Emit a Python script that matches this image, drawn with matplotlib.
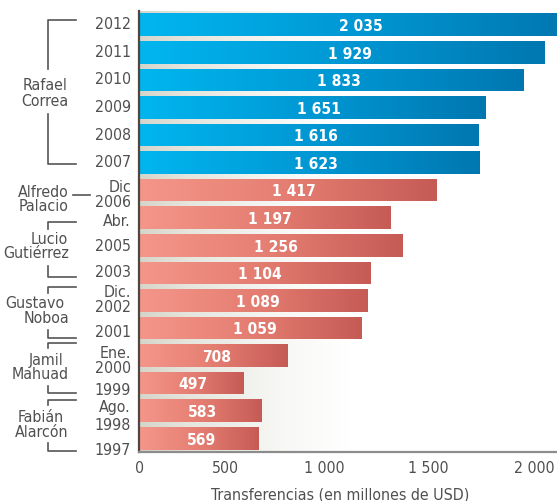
import numpy as np
import matplotlib
matplotlib.use("Agg")
import matplotlib.pyplot as plt
from matplotlib import transforms
from matplotlib.colors import LinearSegmentedColormap
from matplotlib.lines import Line2D

plt.rcParams['font.family'] = ['DejaVu Sans']
plt.rcParams['font.stretch'] = 'condensed'

# ---------------- data ----------------
year_labels = ["2012", "2011", "2010", "2009", "2008", "2007", "Dic\n2006", "Abr.",
               "2005", "2003", "Dic.\n2002", "2001", "Ene.\n2000", "1999",
               "Ago.\n1998", "1997"]
values = [2035, 1929, 1833, 1651, 1616, 1623, 1417, 1197, 1256, 1104, 1089,
          1059, 708, 497, 583, 569]
group = ["correa"] * 6 + ["other"] * 10
x_ticks = [0, 500, 1000, 1500, 2000]
x_tick_labels = ["0", "500", "1 000", "1 500", "2 000"]
x_label = "Transferencias (en millones de USD)"
president_lines = [["Rafael", "Correa"], ["Alfredo", "Palacio"], ["Lucio", "Gutiérrez"],
                   ["Gustavo", "Noboa"], ["Jamil", "Mahuad"], ["Fabián", "Alarcón"]]

# ---------------- layout/style ----------------
W, H = 557, 502
fig = plt.figure(figsize=(W / 100, H / 100), dpi=100)
ax_left, ax_right, ax_top, ax_bottom = 139, 559, 12, 453
ax = fig.add_axes([ax_left / W, (H - ax_bottom) / H,
                   (ax_right - ax_left) / W, (ax_bottom - ax_top) / H])

TXT = "#505052"
FS = 11.4
blue_cmap = LinearSegmentedColormap.from_list("b", ["#00b6ef", "#0098d4", "#0077b0"])
red_cmap = LinearSegmentedColormap.from_list("r", ["#f5968a", "#e57e72", "#c65b56"])
bg_cmap = LinearSegmentedColormap.from_list(
    "bg", [(0, "#d5d5ca"), (0.12, "#e6e6df"), (0.35, "#f8f8f6"), (0.5, "#ffffff"), (1, "#ffffff")])

n = len(values)
ypos = np.arange(n)

# background gradient
ax.imshow(np.linspace(0, 1, 256)[None, :], cmap=bg_cmap, extent=(0, 1, 0, 1),
          transform=ax.transAxes, aspect="auto", zorder=0)

bars = ax.barh(ypos, values, height=0.82, color="none", edgecolor="none", zorder=1)
grad = np.linspace(0, 1, 256)[None, :]
for bar, g in zip(bars, group):
    x0 = bar.get_x()
    x1 = x0 + bar.get_width()
    y0 = bar.get_y()
    y1 = y0 + bar.get_height()
    im = ax.imshow(grad, cmap=blue_cmap if g == "correa" else red_cmap,
                   extent=(x0, x1, y1, y0), aspect="auto", zorder=2,
                   interpolation="bilinear")
    im.set_clip_path(bar)

for y, v in zip(ypos, values):
    ax.text(0.52 * v, y + 0.03, f"{v:,}".replace(",", " "), ha="center", va="center",
            color="white", fontsize=11.2, fontweight="bold", zorder=3)

ax.set_xlim(0, 2000)
ax.set_ylim(n - 0.5, -0.5)

# y labels (with small per-label vertical nudges, px, positive = down)
y_nudge = [-1, -1, -1, -1, -1, -1, 4, 3, 0, -1, -1, 4, 4, 6, 5, 11]
y_spacing = [1.0] * n
y_spacing[14] = 1.3
ax.set_yticks(ypos)
ax.set_yticklabels([])
for y, lab, dy, ls in zip(ypos, year_labels, y_nudge, y_spacing):
    tr = transforms.offset_copy(ax.get_yaxis_transform(), fig=fig, x=-8, y=-dy, units="dots")
    ax.text(0, y, lab, transform=tr, ha="right", va="center", color=TXT,
            fontsize=FS, linespacing=ls, multialignment="right")

# x labels
ax.set_xticks(x_ticks)
ax.set_xticklabels([])
ax.tick_params(axis="both", length=0)
for i, (xv, lab) in enumerate(zip(x_ticks, x_tick_labels)):
    tr = transforms.offset_copy(ax.get_xaxis_transform(), fig=fig,
                                x=(1 if i == 0 else -5), y=-8, units="dots")
    ax.text(xv, 0, lab, transform=tr, ha=("center" if i == 0 else "right"),
            va="top", color=TXT, fontsize=FS)

ax.set_xlabel(x_label, color=TXT, fontsize=FS)
ax.xaxis.set_label_coords((340 - ax_left) / (ax_right - ax_left),
                          -(488 - ax_bottom) / (ax_bottom - ax_top))

for s in ["top", "right"]:
    ax.spines[s].set_visible(False)
ax.spines["left"].set_color("#4f4642")
ax.spines["left"].set_linewidth(1.6)
ax.spines["left"].set_zorder(4)
ax.spines["bottom"].set_color("#8c8c8c")
ax.spines["bottom"].set_linewidth(1.6)
ax.spines["bottom"].set_zorder(4)

# president labels and brackets (figure pixel coordinates)
T = transforms.Affine2D().scale(1 / W, -1 / H).translate(0, 1) + fig.transFigure
LC = "#555555"
LW = 1.2

def seg(xs, ys):
    fig.add_artist(Line2D(xs, ys, transform=T, color=LC, lw=LW))

# Rafael Correa
seg([76, 48, 48], [20.5, 20.5, 70])
seg([48, 48, 76], [115, 165, 165])
# Alfredo Palacio
seg([73, 90], [196, 196])
# other brackets: (top, top_vert_end, bottom_vert_start, bottom)
brk = [(223, 230, 267, 278), (288, 294, 331, 339), (344, 349, 387, 394), (401, 406, 444, 452)]
for t, tv, bv, b in brk:
    seg([76, 48, 48], [t, t, tv])
    seg([48, 48, 76], [bv, b, b])

name_pos = [((68, 86), (68, 101)), ((69, 193), (69, 207)), ((68, 240), (69, 254)),
            ((64, 304), (69, 319)), ((64, 361), (69, 375)), ((64, 418), (69, 433))]
for lines, poss in zip(president_lines, name_pos):
    for txt, (px, py) in zip(lines, poss):
        fig.text(px, py, txt, transform=T, ha="right", va="center", color=TXT, fontsize=FS)

fig.savefig("out.png", dpi=100)
